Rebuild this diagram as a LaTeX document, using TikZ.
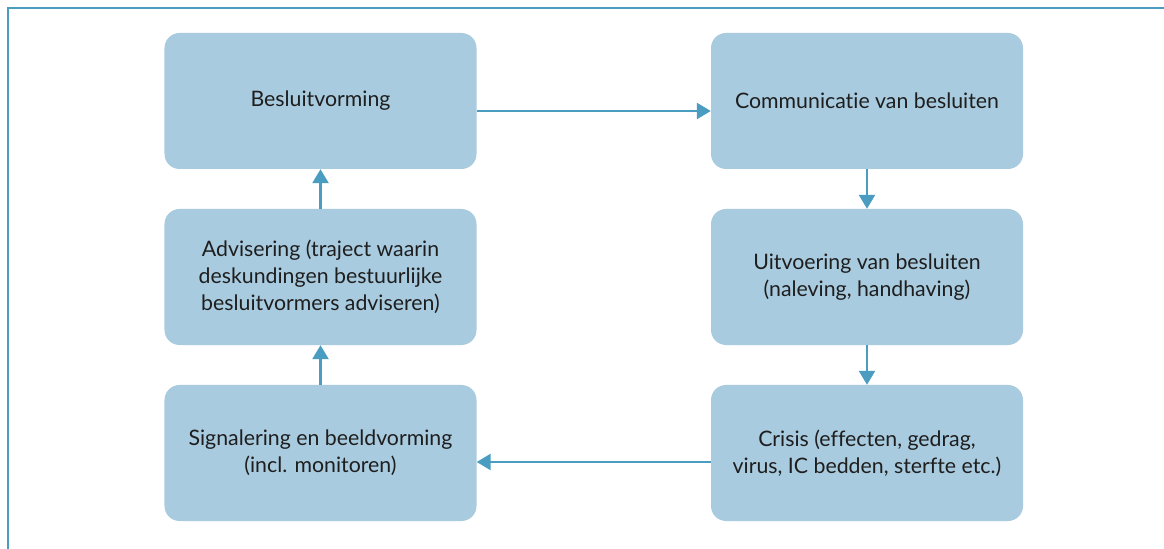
\documentclass[tikz,border=0pt]{standalone}
\usepackage{fontspec}
\setmainfont[Ligatures=NoCommon]{Lato}
\usetikzlibrary{arrows.meta}
\definecolor{boxfill}{HTML}{A9CBDF}
\definecolor{arrowc}{HTML}{4A9CC0}
\definecolor{textc}{HTML}{1E1E1E}
\tikzset{
  stage/.style={rectangle, rounded corners=15bp, fill=boxfill, minimum width=312bp, minimum height=136bp, inner sep=0pt, align=center, text=textc, font=\fontsize{21.3bp}{27bp}\selectfont},
  flow/.style={draw=arrowc, line width=2.5bp, -{Triangle[width=16bp,length=14bp]}}
}
\begin{document}
\begin{tikzpicture}[x=1bp,y=-1bp]
\useasboundingbox (0,0) rectangle (1164,549);
\draw[arrowc, line width=1.5bp] (8,549) -- (8,8) -- (1164,8);
\node[stage] (beslu) at (320.5,101) {Besluitvorming};
\node[stage] (advis) at (320.5,277) {Advisering (traject waarin\\deskundingen bestuurlijke\\besluitvormers adviseren)};
\node[stage] (signa) at (320.5,453) {Signalering en beeldvorming\\(incl. monitoren)};
\node[stage] (commu) at (867,101) {Communicatie van besluiten};
\node[stage] (uitvo) at (867,277) {Uitvoering van besluiten\\(naleving, handhaving)};
\node[stage] (crisi) at (867,453) {Crisis (effecten, gedrag,\\virus, IC bedden, sterfte etc.)};
\draw[flow] ([yshift=-10bp]beslu.east) -- ([yshift=-10bp]commu.west);
\draw[flow] (commu.south) -- (uitvo.north);
\draw[flow] (uitvo.south) -- (crisi.north);
\draw[flow] ([yshift=-9bp]crisi.west) -- ([yshift=-9bp]signa.east);
\draw[flow] (signa.north) -- (advis.south);
\draw[flow] (advis.north) -- (beslu.south);
\end{tikzpicture}
\end{document}
